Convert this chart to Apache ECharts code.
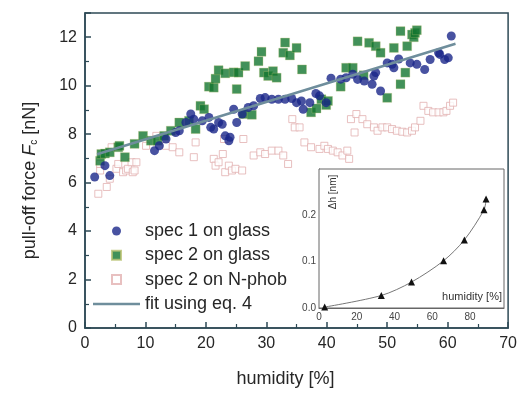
<!DOCTYPE html>
<html>
<head>
<meta charset="utf-8">
<script src="https://cdn.jsdelivr.net/npm/echarts@6/dist/echarts.min.js"></script>
<style>
  html, body { margin: 0; padding: 0; background: #fff; }
  #chart { width: 520px; height: 393px; }
</style>
</head>
<body>
<div id="chart"></div>
<script>
// spec 1 on glass [humidity %, force nN]
const spec1Glass = [
  [1.6, 6.23], [3.3, 6.7], [4.1, 6.29], [11.5, 7.32], [12.3, 7.52], [13.4, 7.8],
  [15.0, 8.07], [15.6, 8.14], [16.7, 8.48], [17.5, 8.83], [18.0, 8.62], [19.4, 8.55],
  [20.5, 8.69], [20.8, 8.28], [21.3, 8.21], [22.1, 8.48], [22.7, 8.41], [23.2, 7.93],
  [23.8, 7.73], [24.0, 7.87], [24.6, 9.03], [25.1, 8.48], [26.0, 8.83], [27.0, 9.1],
  [27.9, 9.17], [29.0, 9.47], [29.8, 9.51], [30.9, 9.44], [32.0, 9.44], [33.1, 9.44],
  [34.2, 9.47], [35.0, 9.3], [35.8, 9.37], [36.1, 9.03], [37.2, 9.3], [38.2, 9.68],
  [38.8, 9.58], [39.9, 9.3], [40.7, 10.31], [42.3, 10.27], [43.2, 10.33], [44.3, 10.47],
  [45.1, 10.26], [46.2, 10.19], [47.5, 10.06], [47.8, 10.4], [48.1, 10.54], [48.9, 9.78],
  [50.0, 10.94], [50.8, 10.88], [51.1, 10.74], [51.9, 11.1], [53.8, 10.94], [54.9, 10.88],
  [56.2, 10.67], [57.1, 11.08], [58.5, 11.36], [58.7, 11.29], [59.5, 11.08], [60.1, 11.15],
  [60.6, 12.05]
];

// spec 2 on glass
const spec2Glass = [
  [2.5, 6.9], [2.7, 7.18], [3.3, 7.2], [4.1, 7.25], [5.5, 7.46], [5.7, 7.52],
  [6.6, 7.05], [8.2, 7.6], [9.6, 7.93], [10.9, 7.73], [12.0, 7.73], [13.1, 7.93],
  [14.2, 8.14], [15.6, 8.48], [17.2, 8.55], [18.3, 8.21], [19.1, 9.17], [19.7, 9.03],
  [20.5, 9.96], [21.3, 9.92], [21.6, 10.29], [22.1, 10.64], [23.2, 10.51], [24.6, 10.55],
  [25.1, 9.86], [25.4, 10.54], [26.2, 8.83], [26.5, 10.81], [27.6, 8.8], [28.7, 11.01],
  [29.2, 11.4], [29.6, 10.54], [30.3, 10.4], [31.1, 10.6], [31.7, 10.33], [32.8, 11.36],
  [33.1, 11.78], [33.9, 11.25], [35.0, 11.56], [35.9, 10.67], [37.4, 8.9], [38.3, 9.06],
  [39.1, 9.44], [39.9, 9.2], [40.2, 9.37], [42.3, 9.96], [43.2, 10.74], [44.3, 10.74],
  [45.1, 11.83], [46.1, 10.43], [47.0, 11.77], [48.1, 11.63], [48.9, 11.36], [50.0, 9.5],
  [51.1, 11.56], [52.2, 12.25], [52.2, 10.06], [53.0, 10.54], [53.3, 11.63], [54.1, 12.11],
  [54.4, 12.0], [54.6, 12.18], [54.9, 12.29]
];

// spec 2 on N-phob
const spec2NPhob = [
  [2.2, 5.54], [2.5, 6.5], [2.5, 6.77], [3.6, 5.82], [4.1, 6.16], [4.4, 7.46],
  [5.2, 6.57], [5.5, 6.77], [6.3, 6.43], [6.8, 6.5], [7.1, 6.57], [7.7, 6.84],
  [7.9, 6.43], [8.2, 6.5], [8.5, 6.84], [10.1, 7.52], [11.8, 7.93], [13.4, 7.52],
  [14.5, 7.46], [15.6, 7.25], [18.0, 7.05], [18.3, 7.66], [21.3, 6.98], [21.6, 6.7],
  [22.1, 6.84], [22.8, 7.18], [23.0, 7.8], [23.2, 6.43], [23.8, 6.7], [24.3, 6.5],
  [24.9, 6.57], [26.0, 6.5], [26.2, 7.8], [27.9, 7.12], [29.0, 7.25], [29.8, 7.18],
  [30.9, 7.32], [32.0, 7.32], [32.8, 7.12], [33.6, 6.77], [34.3, 8.62], [34.7, 8.28],
  [35.5, 8.28], [36.3, 7.66], [37.4, 7.46], [38.8, 7.39], [39.6, 7.52], [40.2, 7.39],
  [41.0, 7.32], [41.8, 7.25], [42.6, 7.12], [43.4, 7.32], [43.7, 6.98], [44.0, 8.62],
  [44.6, 8.07], [44.9, 8.83], [45.9, 8.62], [46.7, 8.41], [47.8, 8.28], [48.4, 8.14],
  [49.2, 8.28], [50.0, 8.28], [50.8, 8.21], [51.6, 8.14], [52.5, 8.1], [53.3, 8.07],
  [54.1, 8.14], [54.6, 8.28], [55.5, 8.55], [56.0, 9.17], [56.8, 8.96], [57.6, 8.9],
  [58.5, 8.9], [59.3, 8.9], [59.8, 8.96], [60.4, 9.17], [60.9, 9.3]
];

// fit using eq. 4
const fitLine = [[2.0, 7.17], [32.0, 9.48], [61.3, 11.73]];

// inset: delta h vs humidity
const insetHumidity = [3, 33, 49, 66, 77, 87.4, 88.5];
const insetDeltaH = [0.002, 0.027, 0.056, 0.102, 0.147, 0.212, 0.235];

const FONT = "'Liberation Sans', Arial, sans-serif";
const AXIS = '#2e4a56';
const TEXT = '#262626';
const SQUARE = 'path://M0,0L10,0L10,10L0,10Z';
const BAR = 'path://M0,0L47,0L47,2.5L0,2.5Z';

const chart = echarts.init(document.getElementById('chart'));

const option = {
  animation: false,
  backgroundColor: '#fff',
  textStyle: { fontFamily: FONT },
  grid: [
    { left: 85, right: 8, top: 13, bottom: 63, show: true, borderColor: AXIS, borderWidth: 1.5 },
    { left: 319, right: 16, top: 169, bottom: 85, show: true, borderColor: '#666', borderWidth: 1, backgroundColor: '#fff', z: 5 }
  ],
  legend: {
    orient: 'vertical',
    left: 88,
    top: 217,
    itemWidth: 47,
    itemHeight: 9,
    itemGap: 6.3,
    symbolKeepAspect: true,
    textStyle: { fontSize: 18, color: TEXT, fontFamily: FONT },
    data: [
      { name: 'spec 1 on glass', icon: 'circle' },
      { name: 'spec 2 on glass', icon: SQUARE },
      { name: 'spec 2 on N-phob', icon: SQUARE },
      { name: 'fit using eq. 4', icon: BAR }
    ]
  },
  xAxis: [
    {
      gridIndex: 0, type: 'value', min: 0, max: 70, interval: 10,
      name: 'humidity [%]', nameLocation: 'middle', nameGap: 42,
      nameTextStyle: { fontSize: 18, color: TEXT, padding: [0, 22, 0, 0] },
      axisLine: { lineStyle: { color: AXIS, width: 1.5 } },
      axisTick: { inside: true, length: 6, lineStyle: { color: AXIS, width: 1.5 } },
      minorTick: { show: true, splitNumber: 2, length: 4, lineStyle: { color: AXIS, width: 1.2 } },
      axisLabel: { fontSize: 16, color: TEXT, margin: 8 },
      splitLine: { show: false }
    },
    {
      gridIndex: 1, type: 'value', min: 0, max: 98, interval: 20,
      axisLine: { lineStyle: { color: '#666', width: 1 } },
      axisTick: { inside: true, length: 3, lineStyle: { color: '#666' } },
      axisLabel: { fontSize: 10, color: '#444', margin: 4, showMaxLabel: false },
      splitLine: { show: false }
    }
  ],
  yAxis: [
    {
      gridIndex: 0, type: 'value', min: 0, max: 13, interval: 2,
      name: '{a|pull-off force }{i|F}{s|c}{a| [nN]}',
      nameLocation: 'middle', nameGap: 46,
      nameTextStyle: {
        padding: [0, 20, 0, 0],
        rich: {
          a: { fontSize: 18, color: TEXT, fontFamily: FONT, lineHeight: 18 },
          i: { fontSize: 18, color: TEXT, fontFamily: FONT, fontStyle: 'italic', lineHeight: 18 },
          s: { fontSize: 10, color: TEXT, fontFamily: FONT, verticalAlign: 'bottom', lineHeight: 10 }
        }
      },
      axisLine: { lineStyle: { color: AXIS, width: 1.5 } },
      axisTick: { inside: true, length: 6, lineStyle: { color: AXIS, width: 1.5 } },
      minorTick: { show: true, splitNumber: 2, length: 4, lineStyle: { color: AXIS, width: 1.2 } },
      axisLabel: { fontSize: 16, color: TEXT, margin: 8, showMaxLabel: false },
      splitLine: { show: false }
    },
    {
      gridIndex: 1, type: 'value', min: 0, max: 0.3, interval: 0.1,
      axisLine: { lineStyle: { color: '#666', width: 1 } },
      axisTick: { inside: true, length: 3, lineStyle: { color: '#666' } },
      minorTick: { show: true, splitNumber: 2, length: 2, lineStyle: { color: '#666' } },
      axisLabel: { fontSize: 10, color: '#444', margin: 3, showMaxLabel: false,
        formatter: v => v.toFixed(1) },
      splitLine: { show: false }
    }
  ],
  graphic: [
    {
      type: 'text', x: 333, y: 192, rotation: Math.PI / 2, z: 100,
      style: { text: 'Δh [nm]', fontSize: 10, fontFamily: FONT, fill: '#333', align: 'center', verticalAlign: 'middle' }
    },
    {
      type: 'text', x: 502, y: 297, z: 100,
      style: { text: 'humidity [%]', fontSize: 11, fontFamily: FONT, fill: '#333', align: 'right', verticalAlign: 'middle' }
    }
  ],
  series: [
    {
      name: 'spec 2 on N-phob', type: 'scatter', xAxisIndex: 0, yAxisIndex: 0,
      symbol: 'rect', symbolSize: 7, z: 2,
      itemStyle: { color: '#fff', borderColor: '#e2b0b0', borderWidth: 1 },
      data: spec2NPhob
    },
    {
      name: 'spec 2 on glass', type: 'scatter', xAxisIndex: 0, yAxisIndex: 0,
      symbol: 'rect', symbolSize: 9, z: 3,
      itemStyle: { color: '#137530', borderColor: '#b8c070', borderWidth: 0.4 },
      data: spec2Glass
    },
    {
      name: 'spec 1 on glass', type: 'scatter', xAxisIndex: 0, yAxisIndex: 0,
      symbol: 'circle', symbolSize: 9, z: 4,
      itemStyle: { color: '#1a278a' },
      data: spec1Glass
    },
    {
      name: 'fit using eq. 4', type: 'line', xAxisIndex: 0, yAxisIndex: 0,
      symbol: 'none', z: 5,
      lineStyle: { color: '#6f8e9c', width: 2.5 },
      itemStyle: { color: '#6f8e9c' },
      data: fitLine
    },
    {
      name: 'inset', type: 'line', xAxisIndex: 1, yAxisIndex: 1,
      smooth: 0.3, symbol: 'triangle', symbolSize: 7, z: 6,
      lineStyle: { color: '#777', width: 1 },
      itemStyle: { color: '#111' },
      data: insetHumidity.map((h, i) => [h, insetDeltaH[i]])
    }
  ]
};

chart.setOption(option);
</script>
</body>
</html>
